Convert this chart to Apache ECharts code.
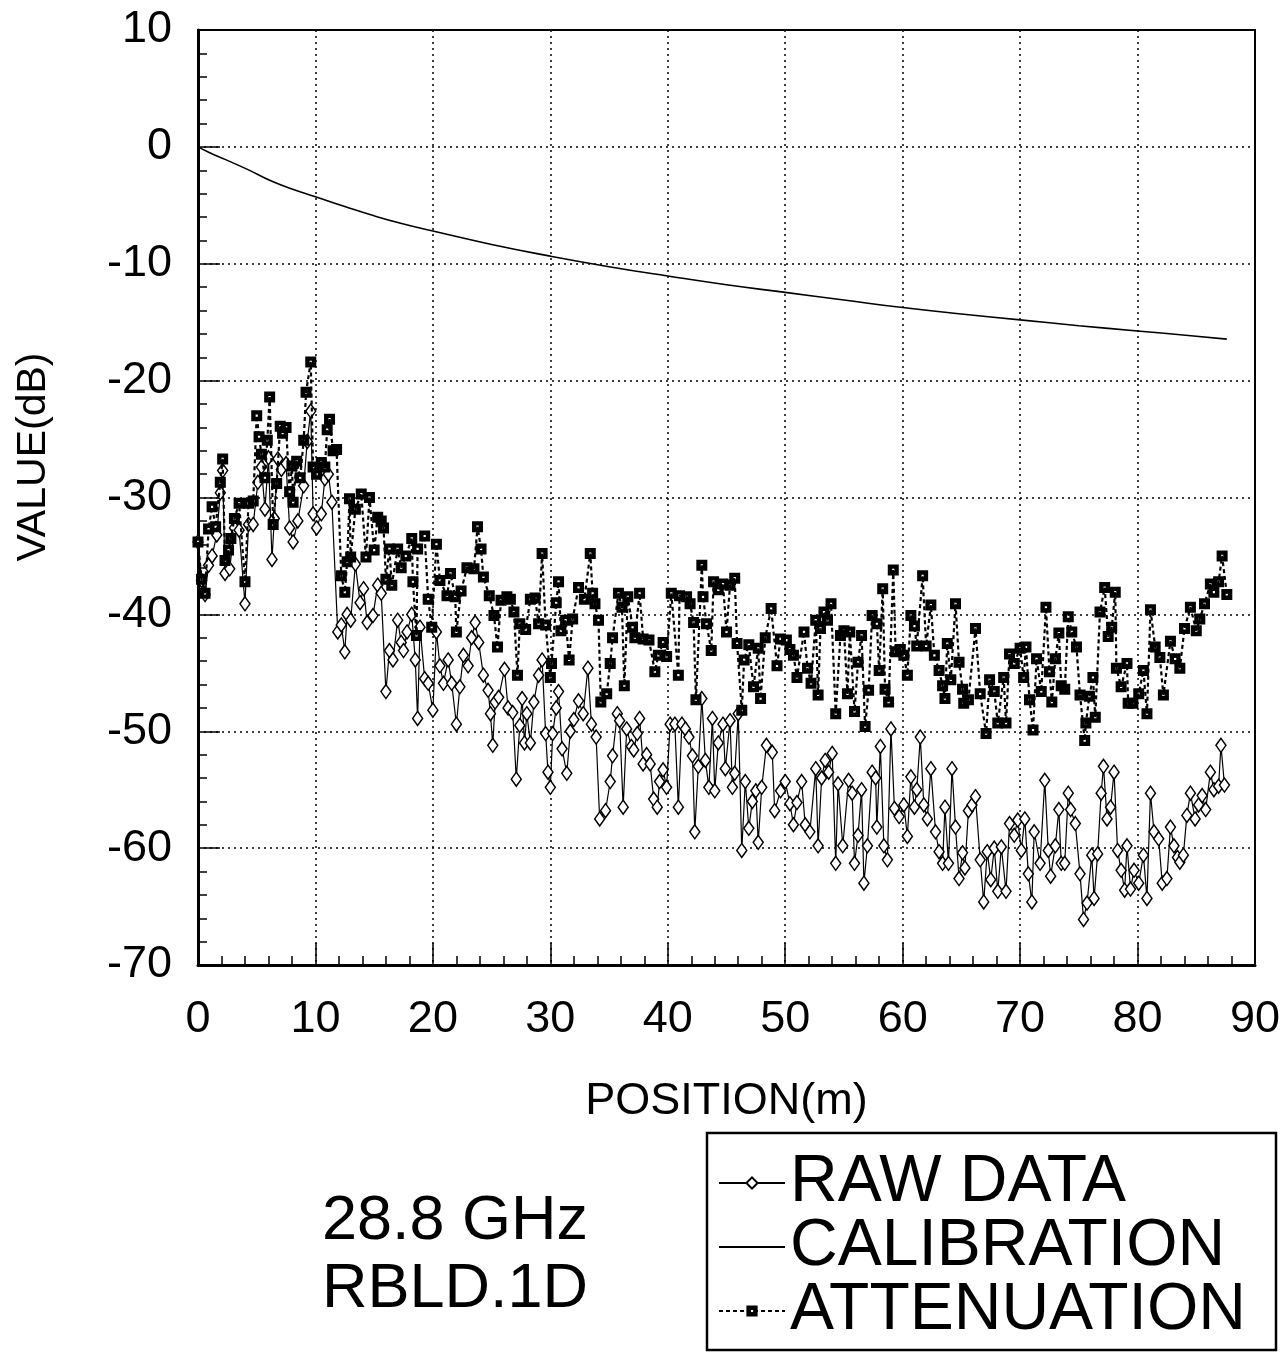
<!DOCTYPE html>
<html>
<head>
<meta charset="utf-8">
<script src="https://cdn.jsdelivr.net/npm/echarts@6/dist/echarts.min.js"></script>
<style>
  html, body { margin: 0; padding: 0; background: #fff; }
  #chart { width: 1286px; height: 1353px; }
</style>
</head>
<body>
<div id="chart"></div>
<script>
// [position (m), value (dB)]
const rawData = [
  [0.0,-33.8],[0.3,-37.1],[0.6,-38.3],[0.9,-35.8],[1.2,-35.0],[1.6,-33.2],[1.9,-29.6],[2.1,-27.7],[2.3,-36.5],[2.7,-36.1],
  [3.1,-32.6],[3.5,-32.8],[4.0,-39.1],[4.3,-32.3],[4.7,-32.3],[5.1,-28.7],[5.4,-27.4],[5.7,-31.0],[6.0,-26.6],[6.3,-35.3],
  [6.5,-31.8],[6.8,-26.7],[7.1,-27.6],[7.5,-27.1],[7.8,-32.6],[8.1,-33.8],[8.5,-32.0],[9.0,-29.0],[9.3,-25.2],[9.6,-22.6],
  [9.8,-31.4],[10.1,-32.6],[10.5,-31.4],[10.8,-28.4],[11.1,-28.0],[11.4,-30.4],[11.9,-41.5],[12.2,-40.9],[12.5,-43.2],[12.7,-40.0],
  [13.0,-40.5],[13.4,-35.7],[13.8,-39.0],[14.1,-37.8],[14.4,-40.7],[14.9,-40.1],[15.3,-37.5],[15.6,-38.2],[16.0,-46.6],[16.3,-43.1],
  [16.6,-43.9],[17.0,-40.5],[17.3,-42.4],[17.5,-43.1],[17.8,-41.5],[18.2,-40.0],[18.5,-43.9],[18.7,-48.9],[18.9,-41.1],[19.3,-45.5],
  [19.6,-45.9],[20.0,-48.2],[20.3,-41.5],[20.6,-44.4],[20.9,-45.9],[21.3,-43.9],[21.6,-45.9],[22.0,-49.4],[22.3,-46.2],[22.6,-43.5],
  [23.0,-44.4],[23.3,-42.0],[23.6,-40.7],[23.9,-42.4],[24.3,-45.2],[24.7,-46.5],[24.9,-48.5],[25.1,-51.2],[25.3,-47.5],[25.6,-47.1],
  [26.1,-44.7],[26.4,-48.0],[26.8,-48.4],[27.1,-54.1],[27.4,-49.5],[27.6,-47.2],[27.8,-51.0],[28.0,-48.5],[28.3,-51.0],[28.6,-47.5],
  [29.0,-45.2],[29.3,-43.9],[29.6,-50.2],[29.8,-53.5],[30.0,-54.8],[30.2,-50.2],[30.5,-48.0],[30.7,-46.6],[31.0,-51.5],[31.4,-53.6],
  [31.7,-50.0],[32.0,-49.0],[32.4,-47.4],[32.8,-48.5],[33.2,-44.6],[33.5,-49.4],[33.9,-50.5],[34.2,-57.5],[34.7,-56.8],[35.1,-54.3],
  [35.3,-52.1],[35.7,-48.5],[35.9,-49.1],[36.2,-56.5],[36.5,-49.8],[36.9,-51.3],[37.1,-51.6],[37.4,-50.2],[37.6,-48.9],[37.9,-52.8],
  [38.2,-52.0],[38.5,-52.8],[38.8,-55.8],[39.1,-56.5],[39.3,-54.3],[39.6,-53.3],[39.9,-54.8],[40.2,-49.4],[40.6,-49.4],[40.9,-56.5],
  [41.2,-49.4],[41.5,-49.8],[41.8,-50.5],[42.1,-52.1],[42.3,-58.6],[42.6,-53.0],[42.9,-47.2],[43.2,-52.5],[43.5,-54.8],[43.8,-48.9],
  [44.0,-55.1],[44.3,-51.0],[44.7,-49.4],[44.9,-53.2],[45.3,-49.1],[45.5,-54.8],[45.7,-53.6],[46.0,-48.5],[46.3,-60.2],[46.6,-54.3],
  [46.9,-58.3],[47.2,-56.0],[47.5,-55.1],[47.7,-59.5],[48.0,-54.8],[48.4,-51.2],[48.9,-51.8],[49.1,-56.8],[49.6,-55.1],[50.0,-54.3],
  [50.4,-56.2],[50.7,-58.0],[51.0,-56.1],[51.4,-54.3],[51.7,-58.0],[52.1,-58.6],[52.6,-53.2],[52.8,-59.8],[53.1,-54.0],[53.4,-52.5],
  [53.7,-53.5],[54.0,-51.9],[54.3,-61.3],[54.5,-54.5],[54.9,-59.8],[55.4,-54.2],[55.7,-55.3],[55.9,-61.3],[56.2,-58.9],[56.5,-55.0],
  [56.7,-63.0],[57.0,-59.8],[57.4,-53.5],[57.7,-54.0],[57.8,-58.2],[58.1,-51.3],[58.4,-59.8],[58.7,-61.0],[59.0,-49.8],[59.3,-56.6],
  [59.7,-57.3],[60.1,-56.3],[60.4,-59.0],[60.7,-53.9],[61.0,-56.5],[61.2,-55.0],[61.5,-50.5],[61.8,-56.3],[62.1,-57.5],[62.4,-53.2],
  [62.8,-58.6],[63.1,-60.3],[63.4,-61.3],[63.6,-56.5],[63.9,-61.3],[64.2,-53.2],[64.5,-58.2],[64.8,-62.6],[65.1,-60.4],[65.3,-61.7],
  [65.6,-56.8],[65.9,-56.3],[66.2,-55.6],[66.6,-61.0],[66.9,-64.6],[67.2,-60.3],[67.5,-62.7],[67.8,-60.0],[68.1,-63.7],[68.4,-59.9],
  [68.8,-63.7],[69.1,-57.9],[69.5,-58.9],[69.8,-57.6],[70.1,-60.2],[70.4,-57.5],[70.7,-62.2],[71.0,-64.6],[71.2,-58.6],[71.7,-61.3],
  [72.1,-54.2],[72.4,-60.2],[72.6,-62.4],[73.0,-59.8],[73.3,-56.7],[73.5,-61.3],[73.8,-61.3],[74.1,-55.3],[74.3,-56.7],[74.7,-57.9],
  [75.1,-62.2],[75.4,-66.1],[75.7,-64.7],[76.1,-60.6],[76.3,-64.3],[76.6,-60.5],[76.9,-55.3],[77.1,-53.0],[77.4,-57.5],[77.7,-56.5],
  [78.0,-53.5],[78.3,-60.2],[78.6,-61.9],[78.9,-63.6],[79.1,-59.8],[79.4,-63.5],[79.7,-61.9],[80.1,-63.0],[80.5,-60.6],[80.8,-64.3],
  [81.1,-55.3],[81.4,-58.6],[81.8,-59.2],[82.1,-63.0],[82.5,-62.6],[82.8,-58.2],[83.1,-59.8],[83.4,-60.8],[83.6,-61.2],[83.9,-60.6],
  [84.2,-57.2],[84.5,-55.3],[84.9,-57.5],[85.2,-56.3],[85.5,-55.5],[85.8,-56.7],[86.2,-53.5],[86.5,-55.0],[86.9,-54.7],[87.1,-51.2],
  [87.4,-54.6]
];

const attenuationData = [
  [0.0,-33.8],[0.3,-37.0],[0.6,-38.2],[0.9,-32.7],[1.2,-30.8],[1.5,-32.5],[1.9,-28.7],[2.1,-26.7],[2.3,-35.4],[2.6,-34.5],
  [2.8,-33.5],[3.1,-31.8],[3.5,-30.5],[4.0,-37.2],[4.3,-30.5],[4.7,-30.3],[5.0,-23.0],[5.2,-24.8],[5.4,-26.3],[5.7,-28.3],
  [5.9,-25.1],[6.1,-21.4],[6.4,-32.3],[6.7,-28.8],[7.0,-23.9],[7.2,-24.5],[7.5,-24.0],[7.8,-29.5],[8.0,-27.3],[8.1,-30.4],
  [8.4,-26.9],[8.7,-28.3],[9.0,-25.1],[9.2,-21.0],[9.6,-18.4],[9.8,-27.4],[10.1,-28.0],[10.5,-27.0],[10.8,-27.4],[11.0,-24.2],
  [11.2,-23.3],[11.5,-26.0],[11.8,-25.9],[12.2,-36.7],[12.5,-38.1],[12.7,-35.5],[12.9,-30.1],[13.0,-35.1],[13.4,-31.0],[13.9,-29.7],
  [14.3,-35.1],[14.6,-30.0],[15.0,-34.5],[15.3,-31.7],[15.6,-32.0],[15.8,-32.6],[16.0,-37.0],[16.3,-34.4],[16.5,-37.5],[17.0,-34.4],
  [17.3,-36.0],[17.7,-35.0],[18.2,-33.5],[18.3,-37.2],[18.6,-41.8],[18.7,-34.4],[19.3,-33.3],[19.6,-38.7],[19.9,-41.1],[20.3,-34.0],
  [20.6,-37.1],[21.2,-38.4],[21.5,-36.5],[21.9,-38.5],[22.0,-41.5],[22.4,-38.0],[22.9,-36.0],[23.5,-36.1],[23.8,-32.5],[24.1,-34.4],
  [24.3,-36.8],[24.8,-38.4],[25.2,-40.1],[25.5,-42.8],[25.8,-38.8],[26.3,-38.5],[26.6,-38.7],[26.9,-39.8],[27.2,-45.2],[27.4,-40.8],
  [27.9,-41.3],[28.3,-38.7],[28.7,-38.6],[29.0,-40.8],[29.3,-34.8],[29.6,-40.9],[30.0,-45.4],[30.1,-44.2],[30.5,-39.0],[30.7,-37.2],
  [30.9,-41.4],[31.3,-40.5],[31.6,-43.9],[31.9,-40.4],[32.4,-37.7],[32.9,-38.7],[33.4,-34.8],[33.6,-38.2],[33.8,-39.1],[34.1,-40.5],
  [34.3,-47.5],[34.8,-46.8],[35.1,-44.2],[35.3,-42.0],[35.8,-38.2],[36.1,-39.4],[36.3,-46.1],[36.6,-38.5],[37.0,-41.1],[37.2,-42.0],
  [37.6,-38.2],[37.9,-42.1],[38.4,-42.2],[38.9,-44.9],[39.2,-43.5],[39.6,-42.4],[39.9,-43.6],[40.3,-38.2],[40.9,-45.2],[41.0,-38.4],
  [41.6,-38.5],[41.9,-39.1],[42.2,-40.7],[42.4,-47.3],[42.9,-35.8],[43.0,-38.5],[43.3,-40.8],[43.7,-43.1],[43.9,-37.2],[44.3,-37.9],
  [44.7,-37.4],[45.0,-41.5],[45.3,-37.5],[45.7,-36.9],[45.9,-42.5],[46.3,-48.2],[46.5,-43.9],[46.9,-42.6],[47.3,-46.2],[47.7,-42.9],
  [47.9,-47.2],[48.3,-42.0],[48.8,-39.5],[49.3,-44.4],[49.6,-42.1],[50.1,-42.2],[50.4,-43.0],[50.7,-43.5],[51.0,-45.4],[51.6,-41.5],
  [51.9,-44.6],[52.2,-45.9],[52.6,-40.5],[52.8,-46.9],[53.0,-41.2],[53.3,-39.8],[53.6,-40.5],[53.9,-39.1],[54.3,-48.5],[54.7,-41.8],
  [55.0,-41.4],[55.3,-46.8],[55.5,-41.5],[55.9,-48.3],[56.2,-44.1],[56.5,-41.8],[56.8,-49.6],[57.1,-46.5],[57.4,-40.1],[57.8,-40.8],
  [58.0,-44.8],[58.3,-37.8],[58.5,-46.4],[58.8,-47.5],[59.2,-36.2],[59.4,-43.2],[59.8,-43.0],[60.1,-43.5],[60.4,-45.2],[60.7,-40.1],
  [61.0,-41.0],[61.2,-42.7],[61.7,-36.7],[62.0,-42.7],[62.4,-39.2],[62.7,-43.5],[63.1,-44.8],[63.4,-46.1],[63.6,-47.2],[63.8,-42.5],
  [64.1,-45.6],[64.5,-39.1],[64.8,-44.1],[65.1,-46.4],[65.2,-47.6],[65.6,-47.3],[66.2,-41.2],[66.6,-46.8],[67.1,-50.2],[67.4,-45.6],
  [67.8,-46.6],[68.1,-49.3],[68.6,-45.4],[68.8,-49.3],[69.1,-43.4],[69.5,-44.2],[70.0,-42.9],[70.3,-45.4],[70.5,-42.8],[70.8,-47.3],
  [71.1,-49.9],[71.4,-43.8],[71.8,-46.6],[72.2,-39.4],[72.5,-44.9],[72.7,-47.5],[73.0,-43.8],[73.3,-41.6],[73.5,-46.1],[73.8,-46.4],
  [74.1,-40.2],[74.4,-41.5],[74.8,-42.8],[75.1,-46.9],[75.5,-50.8],[75.6,-49.3],[75.9,-47.0],[76.2,-45.4],[76.4,-48.8],[76.8,-39.8],
  [77.2,-37.7],[77.5,-41.9],[77.8,-41.1],[78.1,-38.1],[78.2,-44.6],[78.6,-46.2],[79.1,-44.2],[79.2,-47.6],[79.6,-47.6],[80.1,-46.8],
  [80.5,-44.8],[80.8,-48.5],[81.1,-39.6],[81.5,-42.8],[81.9,-43.7],[82.2,-46.9],[82.8,-42.3],[83.2,-43.8],[83.6,-44.6],[84.0,-41.2],
  [84.5,-39.4],[85.0,-41.4],[85.3,-40.4],[85.7,-39.1],[86.2,-37.4],[86.5,-38.1],[86.9,-37.2],[87.2,-35.0],[87.6,-38.3]
];

const calibrationData = [
  [0,0],[1,-0.5],[2.3,-1.07],[4.3,-1.97],[6.2,-2.9],[8,-3.6],[10,-4.26],[12.5,-5.1],[15,-5.9],[17.5,-6.6],
  [20,-7.2],[25,-8.35],[30,-9.35],[35,-10.25],[40,-11.05],[45,-11.8],[50,-12.45],[55,-13.1],[60,-13.75],[65,-14.3],
  [70,-14.8],[75,-15.3],[80,-15.75],[85,-16.2],[87.6,-16.45]
];

const seriesNames = ['RAW DATA', 'CALIBRATION', 'ATTENUATION'];
const noteLines = ['28.8 GHz', 'RBLD.1D'];

const FONT = '"Liberation Sans", Arial, Helvetica, sans-serif';
// filled square with a small white hole in the middle
const holedSquare = 'path://M0,0L10,0L10,10L0,10Z M4,4L4,6L6,6L6,4Z';

let myChart = echarts.init(document.getElementById('chart'));
let option = {
    backgroundColor: '#fff',
    animation: false,
    grid: {
        left: 198, right: 31, top: 30, bottom: 388,
        show: true, borderColor: '#000', borderWidth: 2
    },
    xAxis: {
        type: 'value', min: 0, max: 90, interval: 10,
        name: 'POSITION(m)', nameLocation: 'middle', nameGap: 114,
        nameTextStyle: {fontSize: 45, fontFamily: FONT, color: '#000'},
        axisLine: {onZero: false, lineStyle: {color: '#000', width: 3}},
        axisTick: {inside: true, length: 22, lineStyle: {color: '#000', width: 1.5}},
        minorTick: {show: true, splitNumber: 5, length: 9, lineStyle: {color: '#000', width: 1.5}},
        axisLabel: {fontSize: 45, fontFamily: FONT, color: '#000', margin: 32},
        splitLine: {show: true, lineStyle: {color: '#000', width: 1.5, type: [2, 4]}}
    },
    yAxis: {
        type: 'value', min: -70, max: 10, interval: 10,
        axisLine: {onZero: false, lineStyle: {color: '#000', width: 3}},
        axisTick: {inside: true, length: 22, lineStyle: {color: '#000', width: 1.5}},
        minorTick: {show: true, splitNumber: 5, length: 9, lineStyle: {color: '#000', width: 1.5}},
        axisLabel: {fontSize: 45, fontFamily: FONT, color: '#000', margin: 26},
        splitLine: {show: true, lineStyle: {color: '#000', width: 1.5, type: [2, 4]}}
    },
    legend: {
        data: [
            seriesNames[0],
            {name: seriesNames[1], itemStyle: {opacity: 0}},
            seriesNames[2]
        ],
        orient: 'vertical',
        left: 718, top: 1150, padding: 0,
        itemWidth: 66, itemHeight: 14, itemGap: -2,
        textStyle: {fontSize: 66, lineHeight: 60, fontFamily: FONT, color: '#000'},
        selectedMode: false
    },
    graphic: [
        {type: 'rect', shape: {x: 707, y: 1133, width: 569, height: 217},
            style: {fill: 'none', stroke: '#000', lineWidth: 2.5}},
        {type: 'text', x: 34, y: 457, rotation: Math.PI / 2,
            style: {text: 'VALUE(dB)', font: '41px ' + FONT, fill: '#000', textAlign: 'center', textVerticalAlign: 'middle'}},
        {type: 'text', x: 455, y: 1222,
            style: {text: noteLines[0], font: '63px ' + FONT, fill: '#000', textAlign: 'center', textVerticalAlign: 'middle'}},
        {type: 'text', x: 455, y: 1290,
            style: {text: noteLines[1], font: '63px ' + FONT, fill: '#000', textAlign: 'center', textVerticalAlign: 'middle'}}
    ],
    series: [
        {
            name: seriesNames[0], type: 'line', data: rawData,
            symbol: 'diamond', symbolSize: [10, 14], showAllSymbol: true,
            itemStyle: {color: '#fff', borderColor: '#000', borderWidth: 1.5},
            lineStyle: {color: '#000', width: 1.2},
            z: 2
        },
        {
            name: seriesNames[1], type: 'line', data: calibrationData,
            symbol: 'none', smooth: true,
            itemStyle: {color: '#000'},
            lineStyle: {color: '#000', width: 1.6},
            z: 3
        },
        {
            name: seriesNames[2], type: 'line', data: attenuationData,
            symbol: holedSquare, symbolSize: 11, showAllSymbol: true,
            itemStyle: {color: '#000'},
            lineStyle: {color: '#000', width: 2.2, type: [4, 3]},
            z: 4
        }
    ]
};
myChart.setOption(option);
</script>
</body>
</html>
